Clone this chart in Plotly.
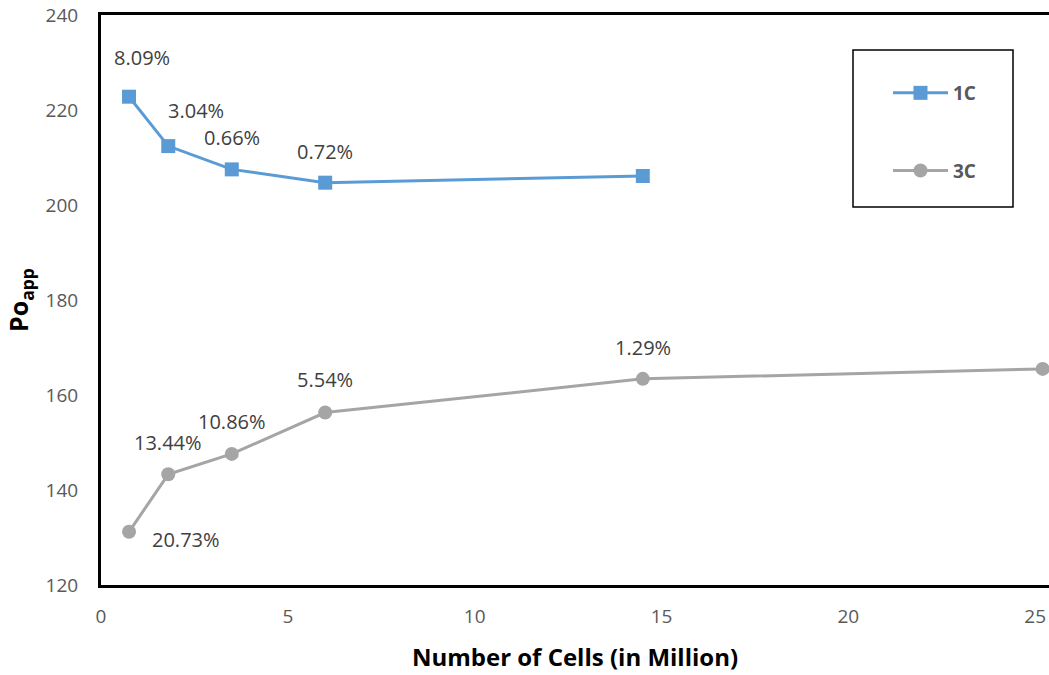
import plotly.graph_objects as go

# Mesh sizes (million cells) and apparent Po for each case
cells_1c = [0.75, 1.8, 3.5, 6.0, 14.5]
po_1c = [222.8, 212.4, 207.5, 204.7, 206.1]
labels_1c = ["8.09%", "3.04%", "0.66%", "0.72%", ""]

cells_3c = [0.75, 1.8, 3.5, 6.0, 14.5, 25.2]
po_3c = [131.2, 143.3, 147.6, 156.3, 163.4, 165.5]
labels_3c = ["20.73%", "13.44%", "10.86%", "5.54%", "1.29%", ""]

x_ticks = [0, 5, 10, 15, 20, 25]
y_ticks = [120, 140, 160, 180, 200, 220, 240]

BLUE = "#5B9BD5"
GRAY = "#A5A5A5"
FONT = "Open Sans, Liberation Sans, sans-serif"

fig = go.Figure()
fig.add_trace(go.Scatter(
    x=cells_1c, y=po_1c, mode="lines+markers", name="1C",
    line=dict(color=BLUE, width=3),
    marker=dict(symbol="square", size=14, color=BLUE),
    legendgroup="a",
))
fig.add_trace(go.Scatter(
    x=cells_3c, y=po_3c, mode="lines+markers", name="3C",
    line=dict(color=GRAY, width=3),
    marker=dict(symbol="circle", size=14, color=GRAY),
    legendgroup="b",
))

# Percentage labels next to the points (x shift, y shift in px)
offsets_1c = [(13, 39), (28, 36), (0, 32), (0, 31), (0, 0)]
offsets_3c = [(57, -8), (0, 32), (0, 32), (0, 33), (0, 31), (0, 0)]
for xs, ys, labs, offs in ((cells_1c, po_1c, labels_1c, offsets_1c),
                           (cells_3c, po_3c, labels_3c, offsets_3c)):
    for x, y, t, (dx, dy) in zip(xs, ys, labs, offs):
        if not t:
            continue
        fig.add_annotation(x=x, y=y, text=t, showarrow=False,
                           xshift=dx, yshift=dy,
                           font=dict(family=FONT, size=20, color="#404040"))

# Legend frame
fig.add_shape(type="rect", xref="paper", yref="paper",
              x0=(853 - 101) / 948, x1=(1013 - 101) / 948,
              y0=(585 - 207) / 570, y1=(585 - 50) / 570,
              line=dict(color="black", width=1.5), fillcolor="rgba(0,0,0,0)")

fig.update_layout(
    width=1049, height=675,
    margin=dict(l=101, r=0, t=15, b=90),
    plot_bgcolor="white", paper_bgcolor="white",
    font=dict(family=FONT, color="#595959"),
    legend=dict(
        x=(888 - 101) / 948, y=(585 - 74) / 570, xanchor="left", yanchor="top",
        bgcolor="rgba(0,0,0,0)", borderwidth=0,
        tracegroupgap=50, itemwidth=55,
        font=dict(family=FONT, size=19, color="#595959", weight="bold"),
    ),
    xaxis=dict(
        range=[0, 25.37], tickvals=x_ticks, ticks="", showgrid=False,
        zeroline=False, showline=True, linecolor="black", linewidth=3,
        mirror=True, ticklabelstandoff=12,
        tickfont=dict(family=FONT, size=19, color="#595959"),
        title=dict(text="Number of Cells (in Million)", standoff=22,
                   font=dict(family=FONT, size=24, color="black", weight="bold")),
    ),
    yaxis=dict(
        range=[120, 240], tickvals=y_ticks, ticks="", showgrid=False,
        zeroline=False, showline=True, linecolor="black", linewidth=3,
        mirror=False, ticklabelstandoff=16,
        tickfont=dict(family=FONT, size=19, color="#595959"),
        title=dict(text="Po<sub>app</sub>", standoff=10,
                   font=dict(family=FONT, size=25, color="black", weight="bold")),
    ),
)

fig.write_html("out.html")
